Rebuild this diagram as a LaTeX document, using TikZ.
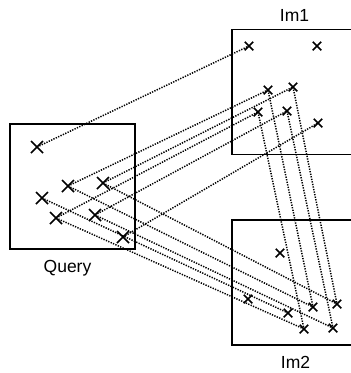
\documentclass[tikz,border=0pt]{standalone}
\usepackage{fontspec}
\setmainfont{Liberation Sans}
\usetikzlibrary{shapes.misc}
\begin{document}
\begin{tikzpicture}[x=1pt,y=-1pt,
  frame/.style={draw, line width=1.7pt, minimum width=125pt, minimum height=125pt, inner sep=0pt},
  bigx/.style={cross out, draw, line width=1.6pt, minimum size=12pt, inner sep=0pt, outer sep=0pt},
  smallx/.style={cross out, draw, line width=1.5pt, minimum size=8.5pt, inner sep=0pt, outer sep=0pt},
  match/.style={line width=1.5pt, dash pattern=on 1.3pt off 1.3pt},
  lbl/.style={font=\fontsize{17.5}{20}\selectfont, inner sep=0pt, anchor=base}
]
\clip (0,0) rectangle (351,373);
% frames
\node[frame] (query) at (72.5,186.5) {};
\node[frame] (im1) at (294.5,92) {};
\node[frame] (im2) at (294.5,282.5) {};
% labels
\node[lbl] (lq) at (67.5,272) {Query};
\node[lbl] (l1) at (294.5,21) {Im1};
\node[lbl] (l2) at (295.5,368) {Im2};
% query features
\node[bigx] (Q1) at (37,147) {};
\node[bigx] (Q2) at (68,186) {};
\node[bigx] (Q3) at (103,183) {};
\node[bigx] (Q4) at (42,198) {};
\node[bigx] (Q5) at (56,218) {};
\node[bigx] (Q6) at (95,215) {};
\node[bigx] (Q7) at (123,237) {};
% Im1 features
\node[smallx] (A) at (249,46) {};
\node[smallx] (B) at (317,46) {};
\node[smallx] (C) at (268,90) {};
\node[smallx] (D) at (293,87) {};
\node[smallx] (E) at (258,112) {};
\node[smallx] (F) at (287,111) {};
\node[smallx] (G) at (318,123) {};
% Im2 features
\node[smallx] (H) at (280,253) {};
\node[smallx] (I) at (248,299) {};
\node[smallx] (J) at (313,307) {};
\node[smallx] (K) at (337,304) {};
\node[smallx] (L) at (288,313) {};
\node[smallx] (M) at (304,329) {};
\node[smallx] (N) at (333,328) {};
% matches
\draw[match] (Q1.center) -- (A.center);
\draw[match] (Q7.center) -- (G.center);
\draw[match] (Q2.center) -- (C.center);
\draw[match] (Q3.center) -- (D.center);
\draw[match] (Q5.center) -- (E.center);
\draw[match] (Q6.center) -- (F.center);
\draw[match] (C.center) -- (J.center);
\draw[match] (D.center) -- (K.center);
\draw[match] (E.center) -- (M.center);
\draw[match] (F.center) -- (N.center);
\draw[match] (Q2.center) -- (J.center);
\draw[match] (Q3.center) -- (K.center);
\draw[match] (Q4.center) -- (L.center);
\draw[match] (Q5.center) -- (M.center);
\draw[match] (Q6.center) -- (N.center);
\end{tikzpicture}
\end{document}
